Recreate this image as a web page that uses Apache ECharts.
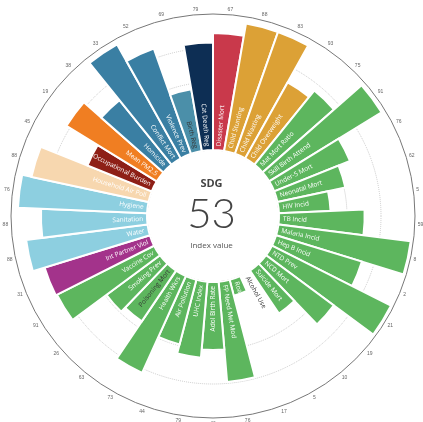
<!DOCTYPE html>
<html lang="en">
<head>
  <meta charset="UTF-8">
  <title>SDG index</title>
  <style>
    html, body { margin: 0; padding: 0; background: #fff; }
    #chart { width: 423px; height: 422px; }
  </style>
</head>
<body>
  <div id="chart"></div>
  <script src="https://cdn.jsdelivr.net/npm/echarts/dist/echarts.min.js"></script>
  <script>
    // indicators, clockwise from 12 o'clock
    var names = ['Disaster Mort', 'Child Stunting', 'Child Wasting', 'Child Overweight', 'Mat Mort Ratio',
      'Skill Birth Attend', 'Under-5 Mort', 'Neonatal Mort', 'HIV Incid', 'TB Incid', 'Malaria Incid',
      'Hep B Incid', 'NTD Prev', 'NCD Mort', 'Suicide Mort', 'Alcohol Use', 'Road Inj Mort', 'FP Need Met Mod',
      'Adol Birth Rate', 'UHC Index', 'Air Pollution', 'Health Wkrs', 'Poisoning Mort', 'Smoking Prev',
      'Vaccine Cov', 'Int Partner Viol', 'Water', 'Sanitation', 'Hygiene', 'Household Air Poll',
      'Occupational Burden', 'Mean PM2.5', 'Homicide', 'Conflict Mort', 'Violence Prev', 'Birth Reg', 'Cat Death Reg'];
    // index value of each indicator (0-100)
    var values = [86, 95, 95, 64, 70, 97, 60, 51, 38, 63, 98, 66, 98, 62, 38, 0, 12, 74, 50, 56, 49, 78, 45, 49,
      80, 81, 90, 78, 95, 88, 51, 78, 61, 96, 82, 46, 79];
    // small numbers printed round the outer ring
    var ringLabels = ['67', '88', '83', '93', '75', '91', '76', '62', '5', '59', '8', '2', '21', '19', '10', '5',
      '17', '76', '46', '79', '44', '73', '63', '26', '91', '31', '88', '88', '76', '88', '45', '19', '38', '33',
      '52', '69', '79'];
    var goals = ['g1', 'g2', 'g2', 'g2', 'g3', 'g3', 'g3', 'g3', 'g3', 'g3', 'g3', 'g3', 'g3', 'g3', 'g3', 'g3',
      'g3', 'g3', 'g3', 'g3', 'g3', 'g3', 'g3', 'g3', 'g3', 'g5', 'g6', 'g6', 'g6', 'g7', 'g8', 'g11', 'g16',
      'g16', 'g16', 'g16b', 'g17'];
    var goalColors = {
      g1: '#c9394b', g2: '#dca136', g3: '#5db65e', g5: '#a3338b', g6: '#8dcfe0', g7: '#f7d7af',
      g8: '#8e1f16', g11: '#f07e22', g16: '#3a7fa3', g16b: '#4b8fa9', g17: '#0d2e54'
    };
    var darkLabels = ['Alcohol Use', 'Poisoning Mort', 'Birth Reg'];

    var n = names.length;
    var barData = values.map(function (v, i) {
      var deg = (i + 0.5) * 360 / n; // compass angle of bar centre
      var right = deg < 180;
      var rot = right ? 90 - deg : 270 - deg;
      return {
        value: v,
        itemStyle: { color: goalColors[goals[i]] },
        label: {
          rotate: rot * Math.PI / 180, // polar bar labels take radians
          align: right ? 'left' : 'right',
          color: darkLabels.indexOf(names[i]) >= 0 ? '#333' : '#fff'
        }
      };
    });

    var chart = echarts.init(document.getElementById('chart'));
    chart.setOption({
      animation: false,
      polar: {
        center: [213, 216],
        radius: [66, 202]
      },
      angleAxis: {
        type: 'category',
        data: names,
        startAngle: 90,
        clockwise: true,
        axisLine: { show: true, lineStyle: { color: '#777', width: 1 } },
        axisTick: { show: false },
        axisLabel: {
          fontSize: 5,
          color: '#666',
          margin: 3,
          formatter: function (v, i) { return ringLabels[i]; }
        },
        splitLine: { show: false }
      },
      radiusAxis: {
        min: 0,
        max: 100,
        interval: 25,
        axisLine: { show: false },
        axisTick: { show: false },
        axisLabel: { show: false },
        splitLine: {
          show: true,
          lineStyle: { color: ['transparent', 'transparent', '#c8c8c8', '#c8c8c8', 'transparent'], type: 'dotted', width: 1 }
        }
      },
      series: [{
        type: 'bar',
        coordinateSystem: 'polar',
        barCategoryGap: '0%',
        data: barData,
        itemStyle: { borderColor: '#fff', borderWidth: 2 },
        label: {
          show: true,
          position: 'insideStart',
          distance: 4,
          verticalAlign: 'middle',
          formatter: '{b}',
          fontFamily: 'Open Sans',
          fontSize: 6.5
        }
      }],
      graphic: [
        { type: 'text', left: 'center', top: 178, style: { text: 'SDG', font: 'bold 11px "Open Sans"', fill: '#444' } },
        { type: 'text', left: 'center', top: 193, style: { text: '53', font: '300 42px Lato', fill: '#444' } },
        { type: 'text', left: 'center', top: 242, style: { text: 'Index value', font: '8px "Open Sans"', fill: '#555' } }
      ]
    });
  </script>
</body>
</html>
